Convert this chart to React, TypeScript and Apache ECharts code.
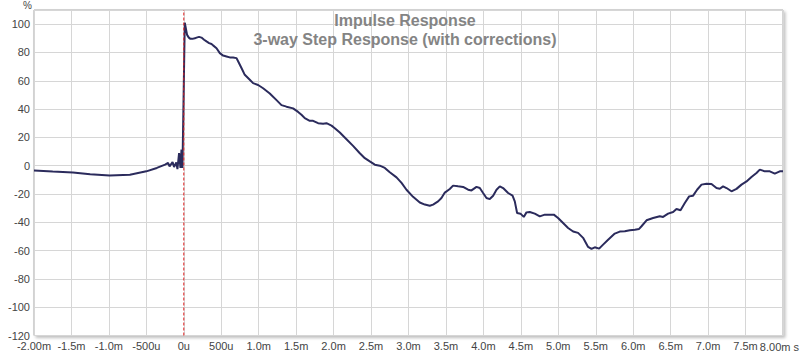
import React, { useEffect, useRef } from "react";
import * as echarts from "echarts";

const timeMs: number[] = [
  -2.0, -1.75, -1.48, -1.25, -0.99, -0.72, -0.5, -0.36, -0.25, -0.21, -0.19, -0.15, -0.13, -0.1, -0.085, -0.063,
  -0.045, -0.031, -0.018, 0.013, 0.044, 0.067, 0.089, 0.116, 0.147, 0.17, 0.204, 0.236, 0.271, 0.303, 0.338,
  0.37, 0.391, 0.437, 0.481, 0.525, 0.57, 0.614, 0.658, 0.704, 0.725, 0.77, 0.814, 0.881, 0.925, 0.992, 1.059,
  1.148, 1.238, 1.304, 1.371, 1.459, 1.526, 1.571, 1.615, 1.682, 1.726, 1.793, 1.86, 1.905, 1.972, 2.016, 2.083,
  2.172, 2.26, 2.35, 2.417, 2.483, 2.55, 2.617, 2.684, 2.75, 2.84, 2.907, 2.973, 3.061, 3.151, 3.218, 3.284,
  3.328, 3.395, 3.44, 3.485, 3.551, 3.595, 3.662, 3.729, 3.796, 3.841, 3.908, 3.952, 3.996, 4.041, 4.085, 4.13,
  4.175, 4.219, 4.263, 4.33, 4.389, 4.419, 4.45, 4.495, 4.539, 4.575, 4.619, 4.686, 4.753, 4.82, 4.887, 4.94,
  4.997, 5.064, 5.131, 5.198, 5.264, 5.331, 5.398, 5.443, 5.487, 5.545, 5.598, 5.665, 5.754, 5.821, 5.888, 5.955,
  6.021, 6.079, 6.111, 6.178, 6.266, 6.355, 6.399, 6.466, 6.533, 6.578, 6.632, 6.689, 6.747, 6.8, 6.853, 6.912,
  6.979, 7.045, 7.112, 7.156, 7.2, 7.246, 7.312, 7.379, 7.446, 7.513, 7.579, 7.646, 7.69, 7.757, 7.824, 7.89,
  7.957, 8.0,
];

const stepPercent: number[] = [
  -3.4, -4.1, -4.8, -6.0, -7.0, -6.4, -4.0, -1.6, 0.7, 1.9, -0.5, 2.6, -0.9, 2.3, -2.4, 8.9,
  -1.6, 11.3, -1.6, 101, 92.4, 90.5, 89.6, 89.6, 90, 90.5, 91, 90.5, 89, 87.8, 86.6,
  86, 85, 83, 79.5, 77.8, 77.2, 76.5, 76.5, 76, 73.8, 69, 64.2, 60.7, 58.3, 57, 54.7,
  51, 46.3, 42.8, 41.7, 40.5, 38, 36, 33.6, 31.7, 31.7, 30, 29.6, 30, 28.3, 26.5, 23.4,
  18.7, 14, 8.8, 5.3, 3, 0.7, 0, -1.6, -4.7, -8.3, -12.2, -17, -22, -26, -27.5, -28.3,
  -27.5, -25.2, -22.8, -19, -16.5, -14.1, -14.6, -15, -17, -17.5, -15, -15.8, -19.3, -22.8, -23.6, -21.2,
  -17, -14.6, -15.8, -19.3, -21.2, -25.2, -33.4, -33.9, -36.2, -33, -32.7, -33.9, -35.8, -34.6, -34.6, -34.6,
  -37, -40.5, -44, -46.5, -47.5, -51, -57.4, -58.8, -57.7, -58.6, -55.8, -52.3, -48, -46.6, -46.4, -45.7,
  -45.2, -44.7, -42.8, -38.6, -37, -35.8, -36.2, -33.9, -32.7, -30.6, -31.5, -26.4, -21.7, -21.2, -17, -13.4,
  -12.7, -12.9, -15.8, -16.3, -14.6, -15.8, -18.1, -16.4, -13.4, -11.1, -8, -5.2, -2.8, -4, -4, -5.6,
  -4, -4,
];

const markerTime = 0;
const xMin = -2;
const xMax = 8;
const yMin = -120;
const yMax = 110;

function xLabel(v: number): string {
  if (Math.abs(v - xMin) < 1e-9) return "-2.00m";
  if (Math.abs(v - xMax) < 1e-9) return "";
  if (Math.abs(v) < 1e-9) return "0u";
  if (Math.abs(v) < 1) return `${Math.round(v * 1000)}u`;
  return `${v.toFixed(1)}m`;
}

export default function App() {
  const ref = useRef<HTMLDivElement>(null);
  useEffect(() => {
    if (!ref.current) return;
    const chart = echarts.init(ref.current, undefined, { renderer: "svg" });
    const font = "'Liberation Sans', Arial, sans-serif";
    chart.setOption({
      animation: false,
      backgroundColor: "#ffffff",
      grid: {
        left: 34,
        right: 17,
        top: 10,
        bottom: 15,
        show: true,
        backgroundColor: "#ffffff",
        borderColor: "#a8a8a8",
        borderWidth: 1,
        shadowColor: "rgba(0,0,0,0.25)",
        shadowBlur: 3,
        shadowOffsetX: 2,
        shadowOffsetY: 2,
      },
      title: [
        {
          text: "Impulse Response",
          left: 400,
          top: 7,
          textAlign: "center",
          textStyle: { fontFamily: font, fontSize: 16, fontWeight: "bold", color: "#848484" },
        },
        {
          text: "3-way Step Response (with corrections)",
          left: 400,
          top: 26,
          textAlign: "center",
          textStyle: { fontFamily: font, fontSize: 16, fontWeight: "bold", color: "#848484" },
        },
      ],
      graphic: [
        {
          type: "text",
          left: 23,
          top: 0,
          style: { text: "%", font: `10px ${font}`, fill: "#444" },
        },
        {
          type: "text",
          right: 1,
          top: 341,
          style: { text: "8.00m s", font: `11px ${font}`, fill: "#444", lineHeight: 10 },
        },
      ],
      xAxis: {
        type: "value",
        min: xMin,
        max: xMax,
        interval: 0.5,
        axisLine: { show: false },
        axisTick: { show: false },
        axisLabel: {
          formatter: xLabel,
          color: "#444",
          fontFamily: font,
          fontSize: 11,
          lineHeight: 10,
          margin: 5,
        },
        splitLine: { show: true, lineStyle: { color: "#d6d6d6", width: 1 } },
      },
      yAxis: {
        type: "value",
        min: yMin,
        max: yMax,
        interval: 20,
        axisLine: { show: false },
        axisTick: { show: false },
        axisLabel: {
          formatter: (v: number) => (v > 100 ? "" : String(v)),
          color: "#444",
          fontFamily: font,
          fontSize: 11,
          lineHeight: 10,
          margin: 4,
        },
        splitLine: { show: true, lineStyle: { color: "#d6d6d6", width: 1 } },
      },
      series: [
        {
          type: "line",
          data: [
            [markerTime, yMin],
            [markerTime, yMax],
          ],
          showSymbol: false,
          symbol: "none",
          lineStyle: { color: "#e02020", type: [3, 2], width: 1 },
          z: 4,
          silent: true,
        },
        {
          type: "line",
          data: timeMs.map((t, i) => [t, stepPercent[i]]),
          showSymbol: false,
          symbol: "none",
          lineStyle: { color: "#2b2b5c", width: 2 },
          z: 3,
        },
      ],
    });
    return () => chart.dispose();
  }, []);
  return (
    <div
      ref={ref}
      style={{ position: "fixed", left: 0, top: 0, width: 800, height: 351 }}
    />
  );
}
